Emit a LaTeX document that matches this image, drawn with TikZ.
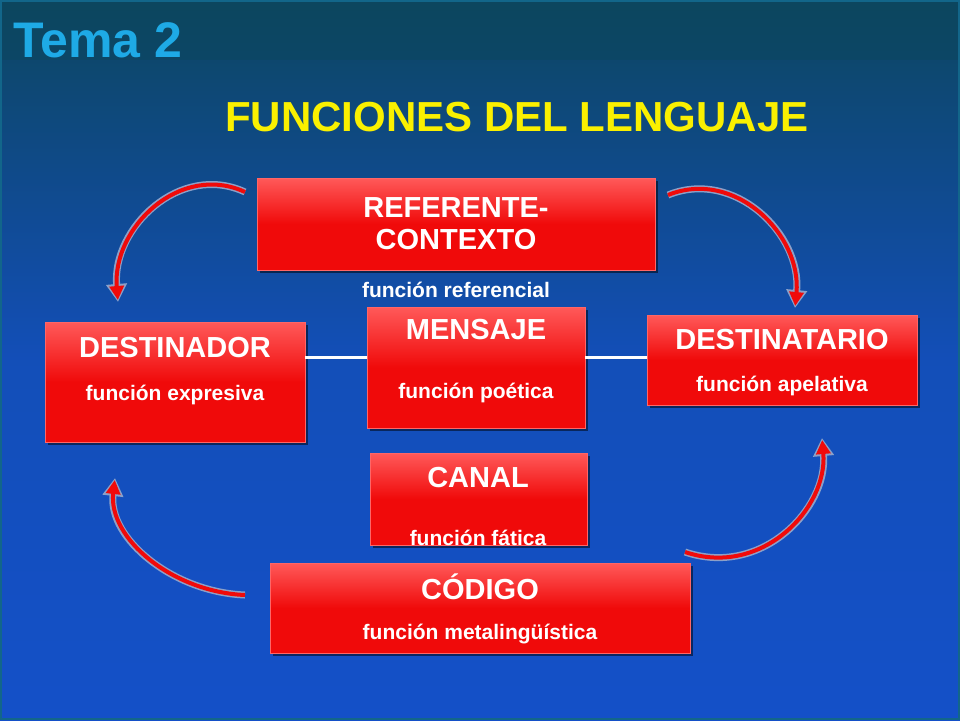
\documentclass[tikz,border=0pt]{standalone}
\usepackage{fontspec}
\setmainfont{Liberation Sans}
\usetikzlibrary{shadows,arrows.meta}
\definecolor{bgdark}{RGB}{12,70,95}
\definecolor{bgblue}{RGB}{20,80,200}
\definecolor{boxred}{RGB}{240,10,10}
\definecolor{arrline}{RGB}{140,160,200}
\definecolor{titcyan}{RGB}{30,170,230}
\definecolor{tityel}{RGB}{250,240,0}
\tikzset{
  rbox/.style={draw=red!60!white, line width=0.8pt, top color=red!65!white, bottom color=boxred, middle color=boxred, shading angle=0, drop shadow={shadow xshift=3pt, shadow yshift=-3pt, fill=black, opacity=0.5}},
  ttl/.style={text=white, font=\fontsize{29}{32}\selectfont\bfseries, align=center},
  sub/.style={text=white, font=\fontsize{21}{24}\selectfont\bfseries},
  conn/.style={white, line width=3pt},
  carrO/.style={arrline, line width=7pt, -{Triangle[length=18pt,width=20pt]}},
  carrI/.style={boxred, line width=4pt, -{Triangle[length=14pt,width=14pt]}, shorten >=2pt},
}
\begin{document}
\begin{tikzpicture}[x=1pt,y=-1pt]
\useasboundingbox (0,0) rectangle (960,720);
\shade[top color=bgdark, bottom color=bgblue, middle color=bgblue!85!bgdark] (0,0) rectangle (960,720);
\fill[bgdark, opacity=0.5] (0,0) rectangle (960,60);
\draw[titcyan!60!black, line width=2pt] (1,1) rectangle (959,719);
\node[anchor=west, text=titcyan, font=\fontsize{50}{54}\selectfont\bfseries] (tema) at (10,40) {Tema 2};
\node[text=tityel, font=\fontsize{42}{46}\selectfont\bfseries] (tit) at (517,117) {FUNCIONES DEL LENGUAJE};
% boxes
\path[rbox] (257,178) rectangle (655,270);
\node[ttl] (reft) at (456,224) {REFERENTE-\\CONTEXTO};
\node[sub] (refs) at (456,290) {función referencial};
\path[rbox] (45,322) rectangle (305,442);
\node[ttl] (dnt) at (175,348) {DESTINADOR};
\node[sub] (dns) at (175,395) {función expresiva};
\path[rbox] (367,307) rectangle (585,428);
\node[ttl] (mst) at (476,330) {MENSAJE};
\node[sub] (mss) at (476,393) {función poética};
\path[rbox] (647,315) rectangle (917,405);
\node[ttl] (drt) at (782,340) {DESTINATARIO};
\node[sub] (drs) at (782,386) {función apelativa};
\path[rbox] (370,453) rectangle (587,545);
\node[ttl] (cat) at (478,478) {CANAL};
\node[sub] (cas) at (478,538) {función fática};
\path[rbox] (270,563) rectangle (690,653);
\node[ttl] (cot) at (480,587) {CÓDIGO};
\node[sub] (cos) at (480,634) {función metalingüística};
% connectors
\coordinate (l1) at (305,357); \coordinate (l2) at (367,357);
\coordinate (r1) at (585,357); \coordinate (r2) at (647,357);
\draw[conn] (l1) -- (l2);
\draw[conn] (r1) -- (r2);
% curved arrows
\coordinate (a1s) at (245,192); \coordinate (a1e) at (118,302);
\coordinate (a2s) at (668,195); \coordinate (a2e) at (795,308);
\coordinate (a3s) at (685,552); \coordinate (a3e) at (822,438);
\coordinate (a4s) at (245,595); \coordinate (a4e) at (115,478);
\coordinate (c1) at (180,162); \coordinate (d1) at (112,228);
\coordinate (c2) at (735,168); \coordinate (d2) at (802,235);
\coordinate (c3) at (762,578); \coordinate (d3) at (828,508);
\coordinate (c4) at (172,592); \coordinate (d4) at (108,538);
\foreach \i in {1,2,3,4}{
  \draw[carrO] (a\i s) .. controls (c\i) and (d\i) .. (a\i e);
  \draw[carrI] (a\i s) .. controls (c\i) and (d\i) .. (a\i e);
}
\end{tikzpicture}
\end{document}
